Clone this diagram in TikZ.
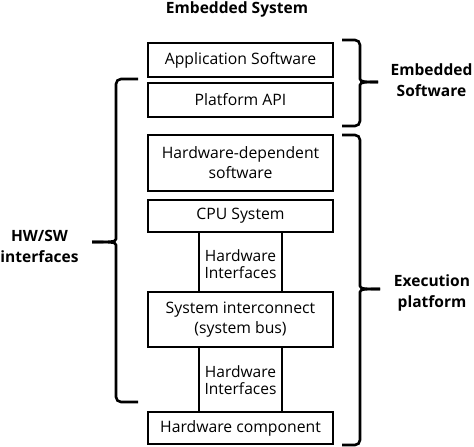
\documentclass[tikz,border=0pt]{standalone}
\usepackage{fontspec}
\setmainfont{Open Sans}
\begin{document}
\begin{tikzpicture}[x=1bp,y=-1bp,
  layer/.style={draw=black,line width=2.6bp,minimum width=185bp,inner sep=0pt,align=center,font=\fontsize{15.8}{20}\selectfont},
  lbl/.style={align=center,font=\fontsize{15.6}{21}\selectfont\bfseries},
  ifc/.style={align=center,font=\fontsize{15.6}{17}\selectfont},
  brace/.style={line width=2.6bp,rounded corners=5bp},
  conn/.style={line width=2.6bp}]
\useasboundingbox (0,0) rectangle (474,447);
% layers
\node[layer,minimum height=34bp] (app) at (240.5,60) {Application Software};
\node[layer,minimum height=34bp] (api) at (240.5,100) {Platform API};
\node[layer,minimum height=56bp] (hds) at (240.5,163) {Hardware-dependent\\software};
\node[layer,minimum height=32bp] (cpu) at (240.5,216) {CPU System};
\node[layer,minimum height=55bp] (bus) at (240.5,319.5) {System interconnect\\(system bus)};
\node[layer,minimum height=32bp] (hwc) at (240.5,428) {Hardware component};
% hardware interfaces
\draw[conn] ([xshift=-41.5bp]cpu.south) -- ([xshift=-41.5bp]bus.north);
\draw[conn] ([xshift=41.5bp]cpu.south) -- ([xshift=41.5bp]bus.north);
\node[ifc] (hi1) at (240.5,264) {Hardware\\Interfaces};
\draw[conn] ([xshift=-41.5bp]bus.south) -- ([xshift=-41.5bp]hwc.north);
\draw[conn] ([xshift=41.5bp]bus.south) -- ([xshift=41.5bp]hwc.north);
\node[ifc] (hi2) at (240.5,380) {Hardware\\Interfaces};
% labels
\node[lbl] (title) at (237,9) {Embedded System};
\node[lbl] (esw) at (431.5,80.5) {Embedded\\Software};
\node[lbl] (exe) at (432,292.5) {Execution\\platform};
\node[lbl] (hwsw) at (39.5,246.5) {HW/SW\\interfaces};
% braces
\draw[brace] (342,40) -- (360,40) -- (360,74) .. controls (360,82) and (366,82) .. (378,82);
\draw[brace] (378,82) .. controls (366,82) and (360,82) .. (360,90) -- (360,126) -- (342,126);
\draw[brace] (342,135) -- (360,135) -- (360,281) .. controls (360,289) and (366,289) .. (380,289);
\draw[brace] (380,289) .. controls (366,289) and (360,289) .. (360,297) -- (360,445) -- (342,445);
\draw[brace] (138,79) -- (116,79) -- (116,234) .. controls (116,242) and (110,242) .. (92,242);
\draw[brace] (92,242) .. controls (110,242) and (116,242) .. (116,250) -- (116,402) -- (138,402);
\end{tikzpicture}
\end{document}
